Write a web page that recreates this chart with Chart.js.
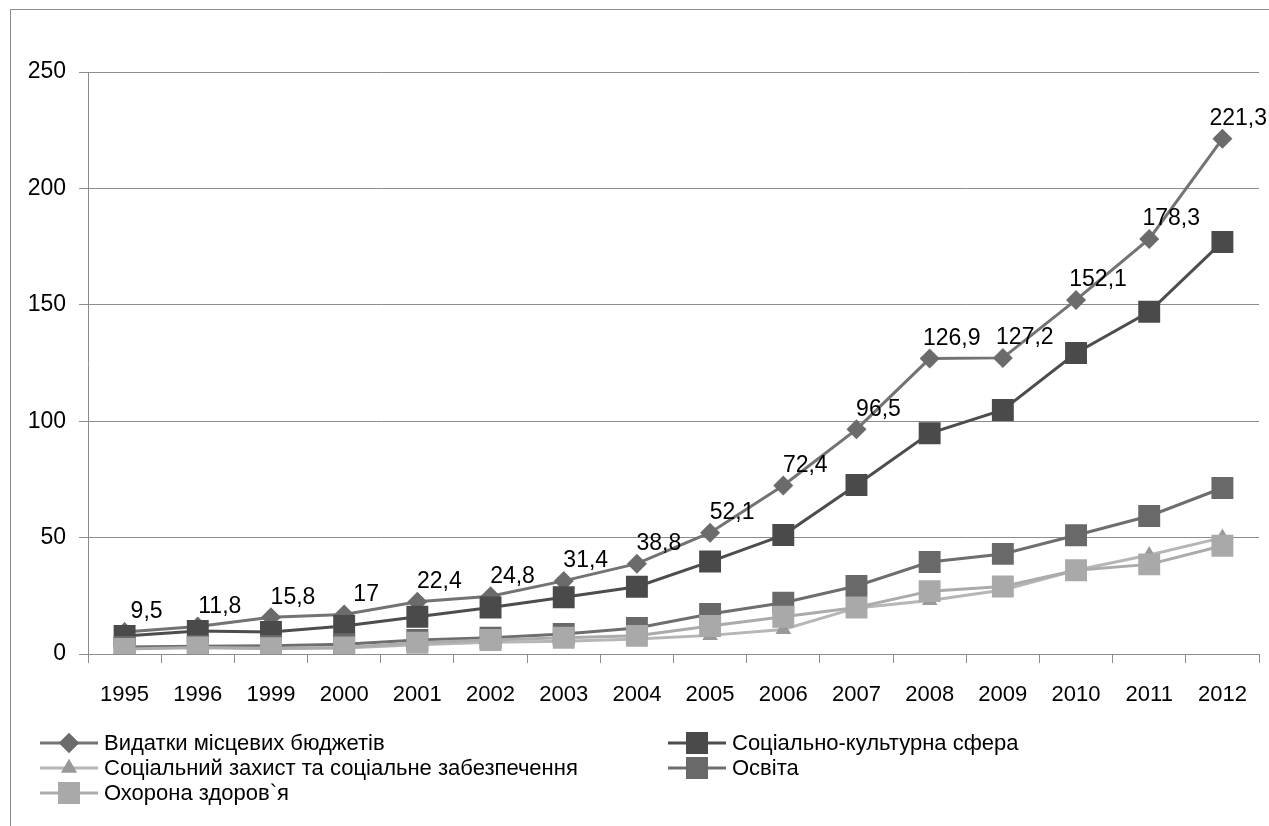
<!DOCTYPE html>
<html>
<head>
<meta charset="utf-8">
<script src="https://cdn.jsdelivr.net/npm/chart.js@4/dist/chart.umd.min.js"></script>
<style>
  html, body { margin: 0; padding: 0; background: #fff; }
  #wrap { position: relative; width: 1269px; height: 826px; overflow: hidden; }
</style>
</head>
<body>
<div id="wrap"><canvas id="chart" width="1269" height="826"></canvas></div>
<script>
/* ---- дані ---- */
const years = ['1995','1996','1999','2000','2001','2002','2003','2004','2005','2006','2007','2008','2009','2010','2011','2012'];

const budgetSpend   = [9.5, 11.8, 15.8, 17, 22.4, 24.8, 31.4, 38.8, 52.1, 72.4, 96.5, 126.9, 127.2, 152.1, 178.3, 221.3];
const socialCulture = [7.7, 9.9, 9.5, 12, 16, 20, 24.4, 28.9, 39.7, 51.1, 72.6, 94.8, 104.8, 129.3, 147, 177];
const socialProtect = [2.5, 2.8, 2.3, 2.6, 4, 5, 5.5, 6.4, 8, 10.5, 19.8, 23, 27.5, 36, 42.5, 50];
const education     = [3, 3.3, 3.5, 4.2, 6, 7, 8.6, 11.2, 17.2, 22, 29.2, 39.5, 43, 51, 59.3, 71.3];
const health        = [2.2, 2.8, 2.5, 2.8, 4.8, 6, 7, 7.8, 12, 16, 20, 27, 29, 36, 38.5, 46.5];

const seriesNames = [
  'Видатки місцевих бюджетів',
  'Соціально-культурна сфера',
  'Соціальний захист та соціальне забезпечення',
  'Освіта',
  'Охорона здоров`я'
];

const yTicks = [0, 50, 100, 150, 200, 250];

const FONT = "'Liberation Sans', Arial, sans-serif";

/* ---- стилі серій ---- */
function makeSet(i, data, line, fill, style, radius) {
  return {
    label: seriesNames[i],
    data: data,
    borderColor: line,
    backgroundColor: fill,
    pointBackgroundColor: fill,
    pointBorderColor: fill,
    pointBorderWidth: 0,
    pointStyle: style,
    pointRadius: radius,
    pointHoverRadius: radius,
    borderWidth: 3,
    tension: 0,
    order: 4 - i   // пізніші серії зверху, як у Excel
  };
}

const datasets = [
  makeSet(0, budgetSpend,   '#737373', '#6b6b6b', 'rectRot', 10),
  makeSet(1, socialCulture, '#4d4d4d', '#4a4a4a', 'rect', 15.5),
  makeSet(2, socialProtect, '#b6b6b6', '#999999', 'triangle', 9),
  makeSet(3, education,     '#6e6e6e', '#696969', 'rect', 15.5),
  makeSet(4, health,        '#ababab', '#a9a9a9', 'rect', 15.5)
];

/* ---- рамка ---- */
const framePlugin = {
  id: 'frame',
  beforeDraw(chart) {
    const c = chart.ctx;
    c.save();
    c.fillStyle = '#fff';
    c.fillRect(0, 0, chart.width, chart.height);
    c.strokeStyle = '#8c8c8c';
    c.lineWidth = 1;
    c.strokeRect(10.5, 9.5, 1400, 1000);
    c.restore();
  }
};

/* ---- підписи значень першої серії ---- */
const labelPlugin = {
  id: 'valueLabels',
  afterDatasetsDraw(chart) {
    const c = chart.ctx;
    const meta = chart.getDatasetMeta(0);
    c.save();
    c.font = '23px ' + FONT;
    c.fillStyle = '#000';
    c.textAlign = 'center';
    c.textBaseline = 'middle';
    meta.data.forEach((pt, i) => {
      const txt = String(budgetSpend[i]).replace('.', ',');
      const w = c.measureText(txt).width;
      const x = Math.min(pt.x + 22, chart.width - w / 2 - 2);
      c.fillText(txt, x, pt.y - 20);
    });
    c.restore();
  }
};

/* ---- легенда у дві колонки ---- */
const legendPlugin = {
  id: 'twoColLegend',
  afterDraw(chart) {
    const c = chart.ctx;
    const cols = [40, 668];
    const rows = [743, 768, 793];
    const place = [[0,0],[1,0],[0,1],[1,1],[0,2]];
    c.save();
    c.font = '22px ' + FONT;
    c.textBaseline = 'middle';
    c.textAlign = 'left';
    chart.data.datasets.forEach((ds, i) => {
      const x = cols[place[i][0]];
      const y = rows[place[i][1]];
      c.strokeStyle = ds.borderColor;
      c.lineWidth = 3;
      c.beginPath();
      c.moveTo(x, y);
      c.lineTo(x + 58, y);
      c.stroke();
      c.fillStyle = ds.pointBackgroundColor;
      Chart.helpers.drawPoint(c, {
        pointStyle: ds.pointStyle,
        radius: ds.pointRadius,
        rotation: 0,
        borderWidth: 0
      }, x + 29, y);
      c.fill();
      c.fillStyle = '#000';
      c.fillText(ds.label, x + 64, y + 1);
    });
    c.restore();
  }
};

new Chart(document.getElementById('chart'), {
  type: 'line',
  data: { labels: years, datasets: datasets },
  plugins: [framePlugin, labelPlugin, legendPlugin],
  options: {
    responsive: false,
    animation: false,
    devicePixelRatio: 1,
    layout: { autoPadding: false, padding: { top: 72, right: 10, bottom: 0, left: 0 } },
    plugins: {
      legend: { display: false },
      tooltip: { enabled: false }
    },
    scales: {
      x: {
        offset: true,
        grid: {
          offset: true,
          drawOnChartArea: false,
          drawTicks: true,
          tickLength: 9,
          color: '#8c8c8c'
        },
        border: { color: '#8c8c8c', width: 1 },
        ticks: {
          color: '#000',
          font: { family: FONT, size: 22 },
          padding: 19,
          maxRotation: 0,
          autoSkip: false
        },
        afterFit(scale) {
          scale.height = 172;
          scale.paddingLeft = 0;
          scale.paddingRight = 0;
        }
      },
      y: {
        min: 0,
        max: 250,
        afterBuildTicks(scale) { scale.ticks = yTicks.map(v => ({ value: v })); },
        grid: {
          color: '#8c8c8c',
          drawTicks: true,
          tickLength: 9
        },
        border: { color: '#8c8c8c', width: 1 },
        ticks: {
          color: '#000',
          font: { family: FONT, size: 23 },
          padding: 13
        },
        afterFit(scale) { scale.width = 88; }
      }
    }
  }
});
</script>
</body>
</html>
